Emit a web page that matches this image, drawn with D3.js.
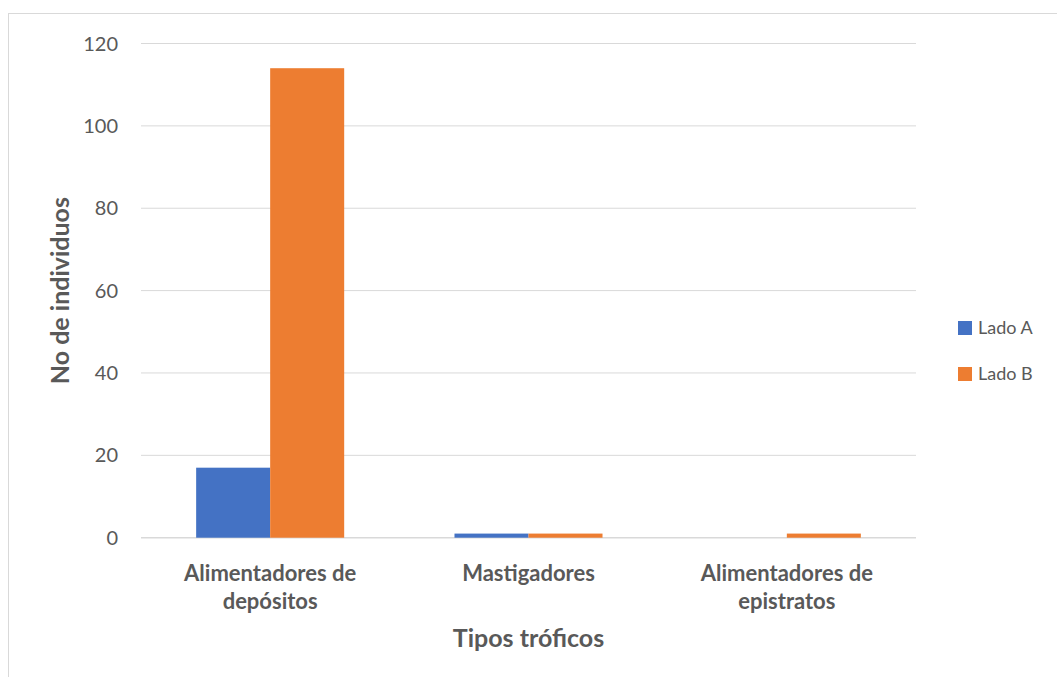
<!DOCTYPE html>
<html>
<head>
<meta charset="utf-8">
<script src="https://cdn.jsdelivr.net/npm/d3@7"></script>
<style>
  html, body { margin: 0; padding: 0; background: #fff; }
  svg text { font-family: Lato, "Open Sans", sans-serif; }
</style>
</head>
<body>
<svg id="chart" width="1057" height="677"></svg>
<script>
// Trophic groups and individual counts per side
const categories = [["Alimentadores de", "depósitos"], ["Mastigadores"], ["Alimentadores de", "epistratos"]];
const seriesNames = ["Lado A", "Lado B"];
const ladoA = [17, 1, 0];
const ladoB = [114, 1, 1];
const yTicks = [0, 20, 40, 60, 80, 100, 120];
const colors = ["#4472C4", "#ED7D31"];

const svg = d3.select("#chart");
const W = 1057, H = 677;
const m = { left: 141, right: W - 916, top: 43.5, bottom: H - 537.7 };

// chart frame
svg.append("rect").attr("x", 8.5).attr("y", 13.5).attr("width", W).attr("height", H)
  .attr("fill", "#fff").attr("stroke", "#d9d9d9").attr("stroke-width", 1);

const keys = categories.map(c => c.join(" "));
const x0 = d3.scaleBand().domain(keys).range([m.left, W - m.right]).padding(0);
const groupW = x0.bandwidth() * 0.573;
const x1 = d3.scaleBand().domain(seriesNames).range([-groupW / 2, groupW / 2]).padding(0);
const y = d3.scaleLinear().domain([0, 120]).range([H - m.bottom, m.top]);

// gridlines
svg.append("g").selectAll("line").data(yTicks).join("line")
  .attr("x1", m.left).attr("x2", W - m.right)
  .attr("y1", d => y(d)).attr("y2", d => y(d))
  .attr("stroke", "#d9d9d9").attr("stroke-width", d => d === 0 ? 1.5 : 1);

// y tick labels
svg.append("g").selectAll("text").data(yTicks).join("text")
  .attr("x", 118).attr("y", d => y(d)).attr("dy", "0.35em")
  .attr("text-anchor", "end").attr("font-size", 20).attr("fill", "#595959")
  .text(d => d);

// bars
const rows = keys.map((k, i) => ({ key: k, values: [ladoA[i], ladoB[i]] }));
const groups = svg.append("g").selectAll("g").data(rows).join("g")
  .attr("transform", d => `translate(${x0(d.key) + x0.bandwidth() / 2},0)`);
groups.selectAll("rect").data(d => d.values.map((v, j) => ({ name: seriesNames[j], v, j })))
  .join("rect")
  .attr("x", d => x1(d.name)).attr("width", x1.bandwidth())
  .attr("y", d => y(d.v)).attr("height", d => y(0) - y(d.v))
  .attr("fill", d => colors[d.j]);

// category labels
const catG = svg.append("g");
categories.forEach((lines, i) => {
  const cx = x0(keys[i]) + x0.bandwidth() / 2;
  const t = catG.append("text").attr("x", cx).attr("y", 581)
    .attr("text-anchor", "middle").attr("font-size", 22).attr("font-weight", "bold").attr("fill", "#595959");
  lines.forEach((ln, k) => t.append("tspan").attr("x", cx).attr("dy", k === 0 ? 0 : 28).text(ln));
});

// axis titles
svg.append("text").attr("x", (m.left + W - m.right) / 2).attr("y", 647)
  .attr("text-anchor", "middle").attr("font-size", 25).attr("font-weight", "bold").attr("fill", "#595959")
  .text("Tipos tróficos");
svg.append("text").attr("transform", `translate(69,${(y(0) + y(120)) / 2}) rotate(-90)`)
  .attr("text-anchor", "middle").attr("font-size", 25).attr("font-weight", "bold").attr("fill", "#595959")
  .text("No de individuos");

// legend
const leg = svg.append("g").selectAll("g").data(seriesNames).join("g")
  .attr("transform", (d, i) => `translate(958,${328 + i * 46})`);
leg.append("rect").attr("x", 0).attr("y", -7).attr("width", 14).attr("height", 14)
  .attr("fill", (d, i) => colors[i]);
leg.append("text").attr("x", 20).attr("y", 0).attr("dy", "0.35em")
  .attr("font-size", 18).attr("fill", "#595959").text(d => d);
</script>
</body>
</html>
